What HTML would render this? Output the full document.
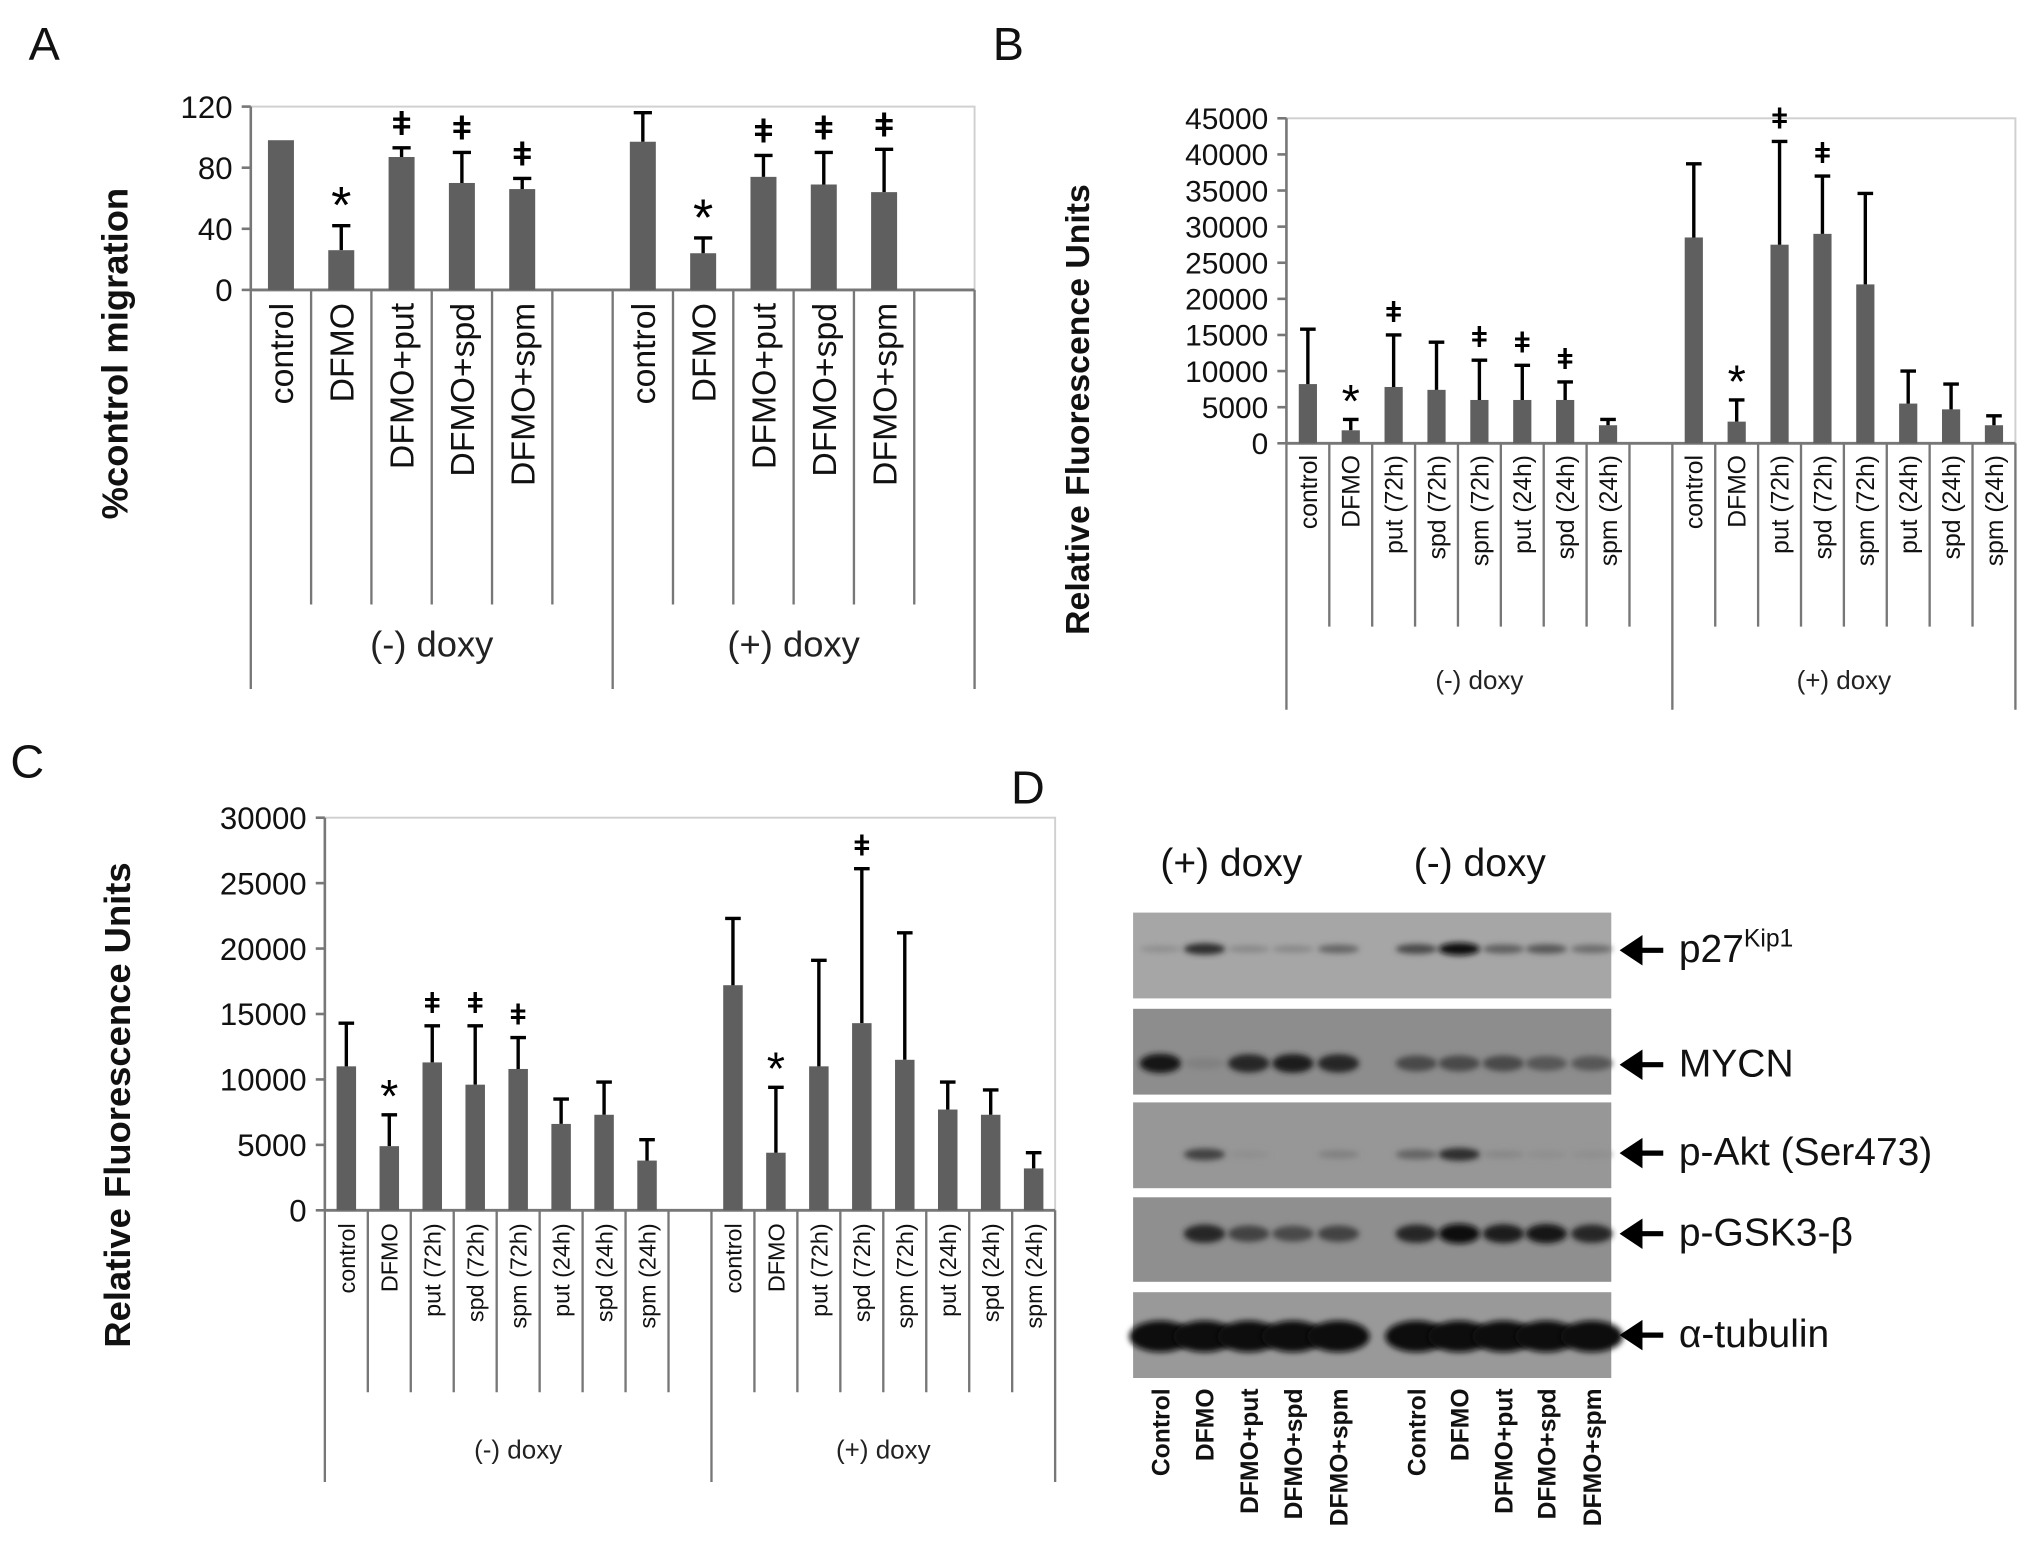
<!DOCTYPE html>
<html><head><meta charset="utf-8"><style>
html,body{margin:0;padding:0;background:#fff}
svg{display:block}
text{font-family:"Liberation Sans",sans-serif}
</style></head><body>
<svg id="fig" xmlns="http://www.w3.org/2000/svg" width="2031" height="1560" viewBox="0 0 1563 1200" preserveAspectRatio="none">
<defs><filter id="bl" x="-50%" y="-100%" width="200%" height="300%"><feGaussianBlur stdDeviation="2.2"/></filter></defs>
<g id="root"></g>
</svg>
<script>
// Panel A data
const aCats=["control","DFMO","DFMO+put","DFMO+spd","DFMO+spm"];
const aMinus=[98,26,87,70,66];
const aMinusErr=[98,42,93,90,73];
const aPlus=[97,24,74,69,64];
const aPlusErr=[116,34,88,90,92];
const aTicks=[0,40,80,120];
const aDag1=[2,3,4], aDag2=[2,3,4], aAst1=[1], aAst2=[1];
// Panel B data
const bCats=["control","DFMO","put (72h)","spd (72h)","spm (72h)","put (24h)","spd (24h)","spm (24h)"];
const bMinus=[8200,1800,7800,7400,6000,6000,6000,2500];
const bMinusErr=[15800,3300,15000,14000,11500,10800,8500,3300];
const bPlus=[28500,3000,27500,29000,22000,5500,4700,2500];
const bPlusErr=[38700,6000,41800,37000,34600,10000,8200,3800];
const bTicks=[0,5000,10000,15000,20000,25000,30000,35000,40000,45000];
const bDag1=[2,4,5,6], bDag2=[2,3], bAst1=[1], bAst2=[1];
// Panel C data
const cCats=["control","DFMO","put (72h)","spd (72h)","spm (72h)","put (24h)","spd (24h)","spm (24h)"];
const cMinus=[11000,4900,11300,9600,10800,6600,7300,3800];
const cMinusErr=[14300,7300,14100,14100,13200,8500,9800,5400];
const cPlus=[17200,4400,11000,14300,11500,7700,7300,3200];
const cPlusErr=[22300,9400,19100,26100,21200,9800,9200,4400];
const cTicks=[0,5000,10000,15000,20000,25000,30000];
const cDag1=[2,3,4], cDag2=[3], cAst1=[1], cAst2=[1];
// Panel D
const dLanes=["Control","DFMO","DFMO+put","DFMO+spd","DFMO+spm","Control","DFMO","DFMO+put","DFMO+spd","DFMO+spm"];
const dRows=["p27","MYCN","p-Akt (Ser473)","p-GSK3-β","α-tubulin"];
const dIntensity=[
 [0.05,0.75,0.1,0.1,0.35,0.55,0.95,0.4,0.45,0.3],
 [0.9,0.15,0.8,0.85,0.8,0.55,0.55,0.55,0.45,0.45],
 [0,0.6,0.05,0,0.15,0.35,0.75,0.1,0.05,0.05],
 [0,0.8,0.6,0.55,0.6,0.8,0.95,0.85,0.9,0.8],
 [1,1,1,1,1,1,1,1,1,1]];

const NS="http://www.w3.org/2000/svg";
const root=document.getElementById('root');
function el(tag,attrs,parent){const e=document.createElementNS(NS,tag);for(const k in attrs)e.setAttribute(k,attrs[k]);(parent||root).appendChild(e);return e;}
function txt(s,attrs,parent){const e=el('text',attrs,parent);e.textContent=s;return e;}

function chart(o){
  const g=el('g',{});
  
  
  const w=(o.right-o.x0)/o.slots;
  const ys=v=>o.zero-v/o.ymax*(o.zero-o.top);
  const xs=(grp,i)=>o.x0+((grp?o.g2:0)+i+0.5)*w;
  const frame=el('rect',{x:o.x0,y:o.top,width:o.right-o.x0,height:o.zero-o.top,fill:'none',stroke:'#d0d0d0','stroke-width':1.5},g);
  
  
  o.ticks.forEach(t=>{
    const y=ys(t);
    el('line',{x1:o.x0-7,x2:o.x0,y1:y,y2:y,stroke:'#777','stroke-width':2},g);
    const tl=txt(String(t),{x:o.x0-14,y:y+o.tf*0.36,'text-anchor':'end','font-size':o.tf,fill:'#111'},g);
    
    
  });
  el('line',{x1:o.x0,x2:o.x0,y1:o.top,y2:o.zero,stroke:'#777','stroke-width':2},g);
  for(let k=0;k<=o.slots;k++){
    const x=o.x0+k*w;
    const isG=(k===0||k===o.g2||k===o.slots);
    el('line',{x1:x,x2:x,y1:o.zero,y2:isG?o.bottom:o.inner,stroke:'#777','stroke-width':1.8},g);
  }
  el('line',{x1:o.x0,x2:o.right,y1:o.zero,y2:o.zero,stroke:'#777','stroke-width':2.2},g);
  const yl=txt(o.ylabel,{x:0,y:0,'font-size':o.yf,'font-weight':'bold','text-anchor':'middle',transform:`translate(${o.ylx},${o.yly}) rotate(-90)`,fill:'#111'},g);
  
  
  const gx=o.x0+o.g2*w;
  const gl1=txt('(-) doxy',{x:(o.x0+gx)/2,y:o.gly,'text-anchor':'middle','font-size':o.gf,fill:'#222'},g);
  
  
  const gl2=txt('(+) doxy',{x:(gx+o.right)/2,y:o.gly,'text-anchor':'middle','font-size':o.gf,fill:'#222'},g);
  
  
  [[o.v1,o.e1,o.d1,o.s1],[o.v2,o.e2,o.d2,o.s2]].forEach((arr,grp)=>{
    const [vals,errs,dag,ast]=arr;
    vals.forEach((v,i)=>{
      const x=xs(grp,i);
      const b=el('rect',{x:x-o.bw/2,y:ys(v),width:o.bw,height:o.zero-ys(v),fill:'#5f5f5f'},g);
      
      
      const ey=ys(errs[i]);
      if(errs[i]>v){
        const eb=el('path',{d:`M${x},${ys(v)}V${ey}M${x-o.cap},${ey}H${x+o.cap}`,stroke:'#000','stroke-width':2.6,fill:'none'},g);
        
        
      }
      const cl=txt(o.cats[i],{x:0,y:0,'font-size':o.cf,'text-anchor':'end',transform:`translate(${x+o.cf*0.36},${o.zero+o.clOff}) rotate(-90)`,fill:'#111'},g);
      
      
      if(dag.includes(i)){
        const d=txt('ǂ',{x:x,y:ey-10,'text-anchor':'middle','font-size':o.mf,'font-weight':'bold'},g);
        
        
      }
      if(ast.includes(i)){
        const a=txt('*',{x:x,y:ey-2,'text-anchor':'middle','font-size':o.mf+14},g);
        
        
      }
    });
  });
}

chart({name:'panel-a-chart',x0:193,right:750,top:82,zero:223,ymax:120,slots:12,g2:6,inner:465,bottom:530,
 ticks:aTicks,tf:24,ylabel:'%control migration',yf:28,ylx:98,yly:272,gly:505,gf:28,cats:aCats,cf:26,clOff:10,
 v1:aMinus,e1:aMinusErr,v2:aPlus,e2:aPlusErr,d1:aDag1,d2:aDag2,s1:aAst1,s2:aAst2,bw:20,cap:7,mf:26});
chart({name:'panel-b-chart',x0:990,right:1551,top:91,zero:341,ymax:45000,slots:17,g2:9,inner:482,bottom:546,
 ticks:bTicks,tf:23,ylabel:'Relative Fluorescence Units',yf:26,ylx:838,yly:315,gly:530,gf:20,cats:bCats,cf:19,clOff:9,
 v1:bMinus,e1:bMinusErr,v2:bPlus,e2:bPlusErr,d1:bDag1,d2:bDag2,s1:bAst1,s2:bAst2,bw:14,cap:6,mf:22});
chart({name:'panel-c-chart',x0:250,right:812,top:629,zero:931,ymax:30000,slots:17,g2:9,inner:1071,bottom:1140,
 ticks:cTicks,tf:24,ylabel:'Relative Fluorescence Units',yf:28,ylx:100,yly:850,gly:1122,gf:20,cats:cCats,cf:18,clOff:10,
 v1:cMinus,e1:cMinusErr,v2:cPlus,e2:cPlusErr,d1:cDag1,d2:cDag2,s1:cAst1,s2:cAst2,bw:15,cap:6,mf:22});

[['A',22,46],['B',764,46],['C',8,598],['D',778,618]].forEach(p=>{
  const t=txt(p[0],{x:p[1],y:p[2],'font-size':36,fill:'#111'});
  
  
});

const dg=el('g',{});


const laneX=[893,927,961,995,1030,1090,1123,1157,1190,1225];
const rowBox=[[702,768],[776,842],[848,914],[921,986],[994,1060]];
const bandY=[730,818,888,949,1028];
const bandH=[7,11,8,11,17];
const bgCol=['#a6a6a6','#8d8d8d','#979797','#8f8f8f','#999999'];
const labY=[740,828,896,958,1036];
dRows.forEach((r,ri)=>{
  const bx=el('rect',{x:872,y:rowBox[ri][0],width:368,height:rowBox[ri][1]-rowBox[ri][0],fill:bgCol[ri]},dg);
  
  
  dIntensity[ri].forEach((v,li)=>{
    if(v<=0)return;
    const c=Math.round(150-v*140);
    el('ellipse',{cx:laneX[li],cy:bandY[ri],rx:ri===4?24:16,ry:bandH[ri]*(0.5+0.5*v)/1.4,fill:`rgb(${c},${c},${c})`,filter:'url(#bl)'},dg);
  });
  const ar=el('path',{d:`M1250,${labY[ri]-9}h30M1250,${labY[ri]-9}l12,-8v16z`,stroke:'#000','stroke-width':4,fill:'#000'},dg);
  
  
});
const pl=txt('',{x:1292,y:labY[0],'font-size':30,fill:'#111'},dg);


pl.innerHTML='p27<tspan dy="-12" font-size="19">Kip1</tspan>';
['MYCN','p-Akt (Ser473)','p-GSK3-β','α-tubulin'].forEach((s,i)=>{
  const t=txt(s,{x:1292,y:labY[i+1],'font-size':30,fill:'#111'},dg);
  
  
});
const h1=txt('(+) doxy',{x:893,y:674,'font-size':30,fill:'#111'},dg);


const h2=txt('(-) doxy',{x:1088,y:674,'font-size':30,fill:'#111'},dg);


dLanes.forEach((s,i)=>{
  const t=txt(s,{x:0,y:0,'font-size':19,'font-weight':'bold','text-anchor':'end',transform:`translate(${laneX[i]+7},1068) rotate(-90)`,fill:'#111'},dg);
  
  
});
</script>
</body></html>
